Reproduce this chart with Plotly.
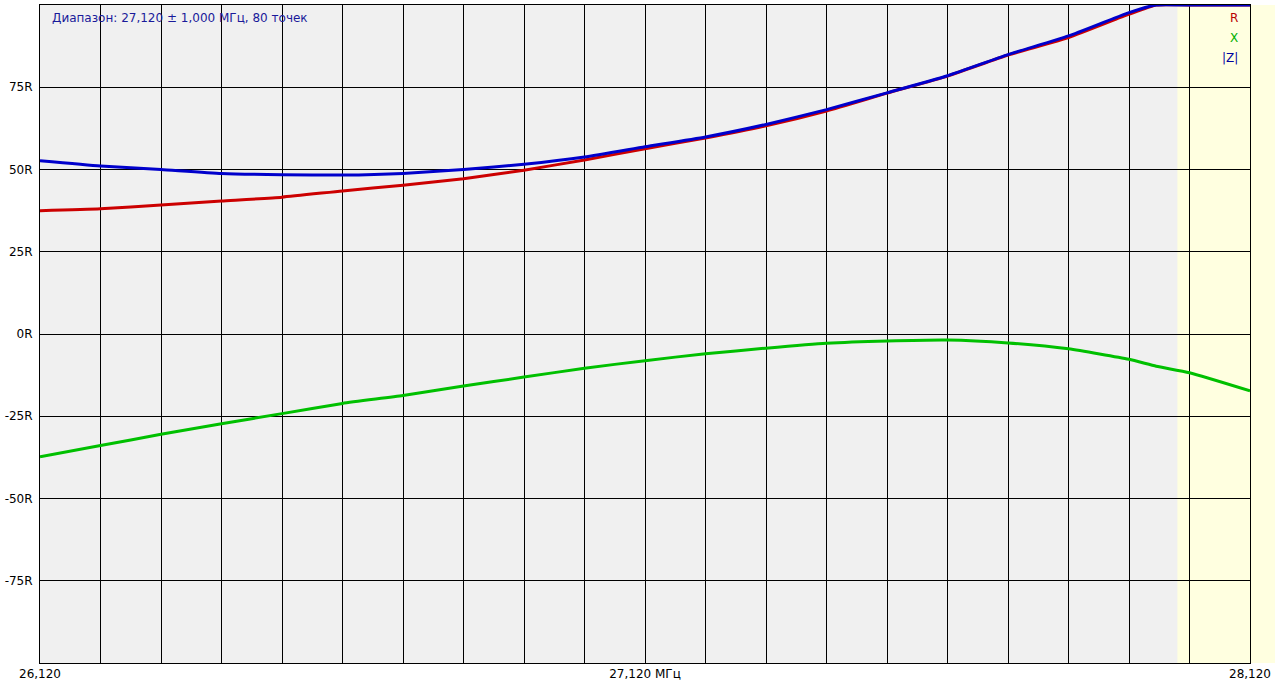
import plotly.graph_objects as go

# Frequencies (MHz): vertical gridlines plus one point where R/|Z| reach the top of scale
freq = [26.12, 26.22, 26.32, 26.42, 26.52, 26.62, 26.72, 26.82, 26.92, 27.02,
        27.12, 27.22, 27.32, 27.42, 27.52, 27.62, 27.72, 27.82, 27.92, 27.965, 28.02, 28.12]

# Resistance R (ohm), values above the top of the scale shown as 100
r_vals = [37.5, 38.1, 39.2, 40.4, 41.6, 43.5, 45.2, 47.2, 49.8, 52.9,
          56.3, 59.6, 63.3, 67.8, 73.2, 78.4, 84.8, 90.1, 97.2, 100.0, 100.0, 100.0]

# Reactance X (ohm)
x_vals = [-37.3, -33.9, -30.5, -27.3, -24.2, -21.1, -18.7, -15.8, -13.1, -10.4,
          -8.1, -6.0, -4.3, -2.8, -2.1, -1.8, -2.7, -4.5, -7.7, -9.8, -11.8, -17.3]

# Impedance magnitude |Z| (ohm)
z_vals = [52.7, 51.1, 50.0, 48.8, 48.4, 48.3, 48.8, 50.0, 51.6, 53.8,
          56.9, 59.9, 63.7, 68.2, 73.3, 78.5, 84.9, 90.6, 97.7, 100.0, 100.0, 100.0]

y_ticks = [-75, -50, -25, 0, 25, 50, 75]
y_labels = ["-75R", "-50R", "-25R", "0R", "25R", "50R", "75R"]
x_grid = [26.12, 26.22, 26.32, 26.42, 26.52, 26.62, 26.72, 26.82, 26.92, 27.02,
          27.12, 27.22, 27.32, 27.42, 27.52, 27.62, 27.72, 27.82, 27.92, 28.02, 28.12]
x_label_vals = [26.12, 27.12, 28.12]
x_label_text = ["26,120", "27,120 МГц", "28,120"]

title_text = "Диапазон: 27,120 ± 1,000 МГц, 80 точек"
band_start, band_end = 28.0, 28.12

FONT = "DejaVu Sans, Liberation Sans, sans-serif"

fig = go.Figure()
fig.add_trace(go.Scatter(x=freq, y=r_vals, mode="lines", name="R",
                         line=dict(color="#cc0000", width=3, shape="spline", smoothing=0.5)))
fig.add_trace(go.Scatter(x=freq, y=z_vals, mode="lines", name="|Z|",
                         line=dict(color="#0000cc", width=3, shape="spline", smoothing=0.5)))
fig.add_trace(go.Scatter(x=freq, y=x_vals, mode="lines", name="X",
                         line=dict(color="#00c000", width=3, shape="spline", smoothing=0.5)))

# highlighted band
fig.add_shape(type="rect", xref="x", yref="y", x0=band_start, x1=band_end, y0=-100, y1=100,
              fillcolor="#ffffe0", line_width=0, layer="below")
fig.add_shape(type="rect", xref="paper", yref="paper", x0=1, x1=1.03, y0=0, y1=1,
              fillcolor="#ffffe0", line_width=0, layer="below")

ticktext = []
for v in x_grid:
    t = ""
    for lv, lt in zip(x_label_vals, x_label_text):
        if abs(v - lv) < 1e-6:
            t = lt
    ticktext.append(t)

fig.update_layout(
    width=1275, height=685,
    margin=dict(l=40, r=23, t=4, b=19, pad=0),
    paper_bgcolor="white", plot_bgcolor="#f0f0f0",
    showlegend=False,
    font=dict(family=FONT, size=12, color="black"),
    xaxis=dict(range=[26.12, 28.12], tickvals=x_grid, ticktext=ticktext,
               showgrid=True, gridcolor="black", gridwidth=1,
               showline=True, linecolor="black", linewidth=1, mirror=True,
               zeroline=False, ticks="", fixedrange=True),
    yaxis=dict(range=[-100, 100], tickvals=y_ticks, ticktext=y_labels,
               showgrid=True, gridcolor="black", gridwidth=1,
               showline=True, linecolor="black", linewidth=1, mirror=True,
               zeroline=False, ticks="", fixedrange=True, ticklabelstandoff=4),
)

fig.add_annotation(text=title_text, xref="paper", yref="paper",
                   x=(50 - 40) / 1212, y=1 - (17 - 4) / 662, xanchor="left", yanchor="middle",
                   showarrow=False, font=dict(family=FONT, size=12, color="#1a1a9a"))

legend_items = [("R", "#b80000", 17), ("X", "#00b000", 37), ("|Z|", "#0000a0", 57)]
for txt, col, ypx in legend_items:
    fig.add_annotation(text=txt, xref="paper", yref="paper",
                       x=(1242 - 40) / 1212, y=1 - (ypx - 4) / 662,
                       xanchor="right", yanchor="middle", showarrow=False,
                       font=dict(family=FONT, size=12, color=col))

fig.write_html("out.html", config={"displayModeBar": False},
               post_script="document.body.style.margin='0px';document.body.style.overflow='hidden';")
